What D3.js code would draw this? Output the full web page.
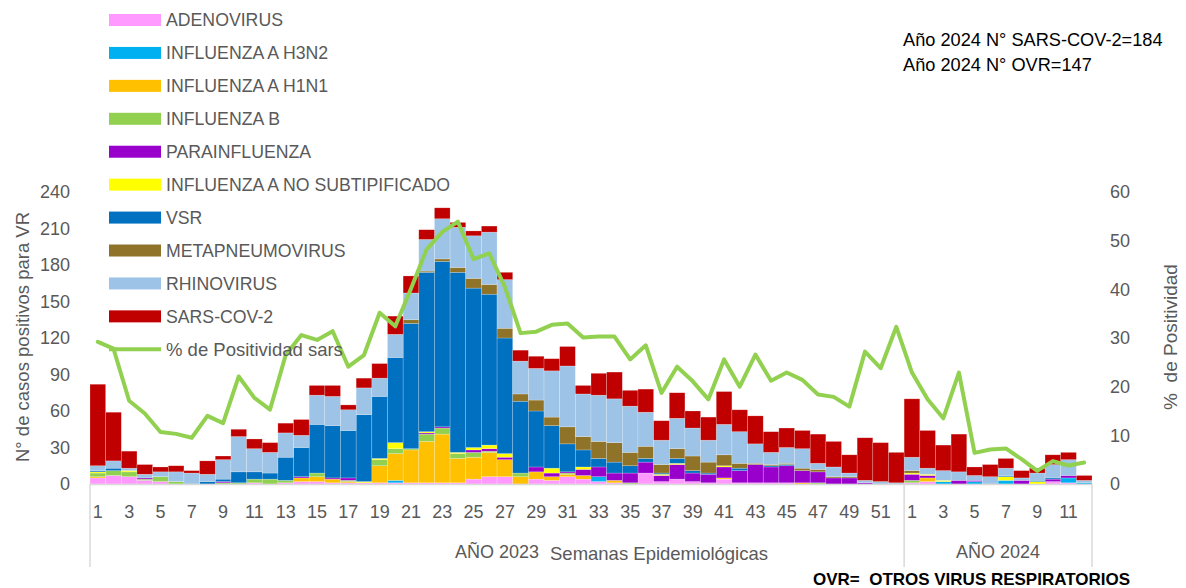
<!DOCTYPE html>
<html><head><meta charset="utf-8">
<script src="https://cdn.jsdelivr.net/npm/d3@7/dist/d3.min.js"></script>
<style>
body{margin:0;background:#fff}
svg{display:block;font-family:"Liberation Sans",Arial,sans-serif}
</style>
</head><body>
<svg id="chart" width="1186" height="588"></svg>
<script>
// ---------- DATA ----------
const weekLabels = ["1","2","3","4","5","6","7","8","9","10","11","12","13","14","15","16","17","18","19","20",
  "21","22","23","24","25","26","27","28","29","30","31","32","33","34","35","36","37","38","39","40",
  "41","42","43","44","45","46","47","48","49","50","51","52",
  "1","2","3","4","5","6","7","8","9","10","11","12"];
const groupLabels = ["AÑO 2023","AÑO 2024"];
const groupSizes = [52,12];

const seriesNames = ["ADENOVIRUS","INFLUENZA A H3N2","INFLUENZA A H1N1","INFLUENZA B","PARAINFLUENZA",
  "INFLUENZA A NO SUBTIPIFICADO","VSR","METAPNEUMOVIRUS","RHINOVIRUS","SARS-COV-2"];
const seriesColors = ["#FF99FF","#00B0F0","#FFC000","#92D050","#9900CC","#FFFF00","#0070C0","#8E7329","#9DC3E6","#C00000"];

const adenovirus = [5,7,6,3,2,0,0,0,0,0, 1,0,1,2,2,1,1,1,1,1, 1,1,1,1,4,6,6,0,4,3, 6,4,2,1,0,9,2,4,2,1, 4,1,1,1,1,0,0,0,0,0, 0,0, 1,2,0,0,0,0,0,0,0,2,1,0];
const h3n2 = [0,0,0,0,0,0,0,0,0,0, 0,0,0,0,0,0,0,0,0,2, 0,0,0,0,0,0,0,0,0,0, 0,0,4,0,0,0,0,0,0,0, 0,0,0,0,0,0,0,0,0,0, 0,0, 0,0,2,0,2,0,3,0,0,0,4,1];
const h1n1 = [1,0,0,0,0,0,0,0,0,0, 0,0,0,3,4,3,1,0,14,22, 27,34,40,20,18,20,14,6,6,3, 2,3,0,2,0,0,0,0,0,0, 1,0,0,0,0,1,0,0,0,0, 0,0, 0,3,0,0,0,0,0,0,0,0,0,0];
const influenzaB = [3,4,4,1,4,2,0,0,1,1, 3,4,2,0,3,0,1,0,5,4, 1,6,5,4,4,1,0,3,0,0, 1,0,0,0,1,0,0,0,0,0, 0,0,0,0,0,0,1,0,0,0, 0,0, 2,0,0,0,0,0,0,0,0,0,0,0];
const parainfluenza = [0,0,0,1,0,0,0,0,1,0, 0,0,0,1,0,1,2,0,0,0, 0,1,1,0,2,2,2,0,4,3, 1,5,8,6,8,9,5,12,7,7, 9,10,15,13,14,10,9,5,5,1, 0,0, 5,2,0,3,1,0,0,3,0,2,2,0];
const influenzaANoSub = [1,0,1,0,0,0,0,0,0,0, 0,0,0,0,0,0,0,1,1,5, 0,1,0,1,2,3,3,0,0,4, 0,2,0,0,0,0,1,1,0,0, 1,0,0,0,0,0,0,0,0,0, 0,0, 1,1,1,0,0,0,3,0,2,0,0,0];
const vsr = [1,2,0,0,0,0,0,2,2,9, 6,5,19,24,40,43,39,55,51,70, 103,131,136,148,131,124,95,59,46,35, 23,14,7,9,6,3,1,4,2,1, 0,2,0,1,1,0,0,0,0,0, 0,0, 0,0,0,0,0,0,1,0,1,1,0,0];
const metapneumovirus = [0,0,0,0,0,0,0,0,0,0, 0,0,0,0,0,0,0,0,0,0, 3,1,2,4,8,8,8,6,9,7, 14,11,14,16,11,10,7,8,12,9, 9,4,1,1,1,2,2,1,1,0, 0,0, 2,0,0,0,0,0,0,0,0,0,0,0];
const rhinovirus = [4,6,2,3,4,8,9,6,16,29, 19,17,20,10,24,24,17,22,15,19, 22,26,33,33,35,43,40,27,26,38, 50,35,38,36,38,28,20,25,23,18, 25,26,16,10,13,16,5,8,3,2, 2,1, 11,5,8,7,4,6,6,2,6,11,13,2];
const sarsCov2 = [67,40,14,8,4,5,2,11,3,6, 8,8,8,13,8,9,4,8,12,15, 14,8,9,4,4,5,6,9,10,10, 16,7,18,22,13,19,16,21,14,19, 27,18,23,17,16,15,24,21,15,35, 32,25, 48,31,21,31,7,10,8,6,4,8,6,4];
const positividadSars = [29.2,27.8,17.1,14.5,10.7,10.3,9.5,14.0,12.5,22.1, 17.7,15.3,26.5,30.6,29.6,31.4,24.1,26.5,35.2,32.4,
  40.1,48.2,51.8,53.9,46.2,47.4,40.5,31.0,31.3,32.7, 33.0,30.1,30.3,30.3,25.6,28.5,18.7,24.1,21.1,17.4,
  25.6,20.0,26.6,21.2,22.9,21.4,18.4,17.9,15.9,27.2, 23.8,32.3,
  22.9,17.4,13.5,22.9,6.4,7.1,7.3,5.1,2.7,4.7,3.8,4.4];
const leftTicks = [0,30,60,90,120,150,180,210,240];
const rightTicks = [0,10,20,30,40,50,60];
const lineName = "% de Positividad sars";
const notes = ["Año 2024 N° SARS-COV-2=184","Año 2024 N° OVR=147"];
const footNote = "OVR=  OTROS VIRUS RESPIRATORIOS";

// ---------- BUILD ----------
const seriesArrays = [adenovirus,h3n2,h1n1,influenzaB,parainfluenza,influenzaANoSub,vsr,metapneumovirus,rhinovirus,sarsCov2];
const table = weekLabels.map((w,i)=>{
  const row = {idx:i, week:w};
  seriesNames.forEach((n,k)=>row[n]=seriesArrays[k][i]);
  return row;
});

const svg = d3.select("#chart");
const gray = "#595959";
const x = d3.scaleBand().domain(d3.range(weekLabels.length)).range([90,1092]).padding(0);
const y = d3.scaleLinear().domain([0,240]).range([484,192]);
const y2 = d3.scaleLinear().domain([0,60]).range([484,192]);

const stacked = d3.stack().keys(seriesNames)(table);
const layers = svg.append("g").selectAll("g").data(stacked).join("g")
  .attr("fill",(d,i)=>seriesColors[i]);
layers.selectAll("rect").data(d=>d.filter(p=>p[1]-p[0]>0)).join("rect")
  .attr("x",d=>x(d.data.idx))
  .attr("width",x.bandwidth())
  .attr("y",d=>y(d[1]))
  .attr("height",d=>y(d[0])-y(d[1]))
  .attr("stroke","rgba(255,255,255,0.35)")
  .attr("stroke-width",0.6);

// axis baseline & group separators
const axisColor = "#D9D9D9";
svg.append("line").attr("x1",x(0)).attr("x2",x(weekLabels.length-1)+x.bandwidth())
  .attr("y1",y(0)+0.5).attr("y2",y(0)+0.5).attr("stroke",axisColor).attr("stroke-width",1.5);
let start = 0;
const sepX = [x(0)];
groupSizes.forEach(s=>{ start += s; sepX.push(start<weekLabels.length ? x(start) : x(weekLabels.length-1)+x.bandwidth()); });
svg.selectAll(".sep").data(sepX).join("line").attr("class","sep")
  .attr("x1",d=>d).attr("x2",d=>d).attr("y1",y(0)).attr("y2",567)
  .attr("stroke",axisColor).attr("stroke-width",1.5);

// group labels
start = 0;
groupLabels.forEach((g,i)=>{
  const a = x(start), b = (start+groupSizes[i]<weekLabels.length) ? x(start+groupSizes[i]) : x(weekLabels.length-1)+x.bandwidth();
  svg.append("text").attr("x",(a+b)/2).attr("y",558).attr("text-anchor","middle")
    .attr("font-size",18).attr("fill",gray).text(g);
  start += groupSizes[i];
});
svg.append("text").attr("x",550).attr("y",560).attr("font-size",18.5).attr("fill",gray)
  .text("Semanas Epidemiológicas");

// bottom axis labels
const xAxis = d3.axisBottom(x).tickSize(0).tickPadding(21)
  .tickFormat(i=> (i%2===0) ? weekLabels[i] : "");
const gx = svg.append("g").attr("transform",`translate(0,${y(0)})`).call(xAxis);
gx.select(".domain").remove();
gx.selectAll("text").attr("font-size",18).attr("fill",gray).attr("font-family","Liberation Sans, Arial, sans-serif");

// left axis
const gy = svg.append("g").attr("transform","translate(70,0)")
  .call(d3.axisLeft(y).tickValues(leftTicks).tickSize(0).tickPadding(0));
gy.select(".domain").remove();
gy.selectAll("text").attr("font-size",18).attr("fill",gray).attr("font-family","Liberation Sans, Arial, sans-serif");

// right axis
const gy2 = svg.append("g").attr("transform","translate(1110,0)")
  .call(d3.axisRight(y2).tickValues(rightTicks).tickSize(0).tickPadding(0));
gy2.select(".domain").remove();
gy2.selectAll("text").attr("font-size",18).attr("fill",gray).attr("font-family","Liberation Sans, Arial, sans-serif");

// axis titles
svg.append("text").attr("transform","translate(23,337) rotate(-90)")
  .attr("text-anchor","middle").attr("dy","0.35em").attr("font-size",18.5).attr("fill",gray)
  .text("N° de casos positivos para VR");
svg.append("text").attr("transform","translate(1170,337) rotate(-90)")
  .attr("text-anchor","middle").attr("dy","0.35em").attr("font-size",19).attr("fill",gray)
  .attr("xml:space","preserve").style("white-space","pre")
  .text("%  de Positividad");

// line
const line = d3.line().x((d,i)=>x(i)+x.bandwidth()/2).y(d=>y2(d));
svg.append("path").datum(positividadSars).attr("d",line)
  .attr("fill","none").attr("stroke","#92D050").attr("stroke-width",4)
  .attr("stroke-linejoin","round").attr("stroke-linecap","round");

// legend
const lg = svg.append("g");
const legY = i => 20 + i*32.93;
seriesNames.forEach((n,i)=>{
  lg.append("rect").attr("x",109).attr("y",legY(i)-6).attr("width",52).attr("height",12).attr("fill",seriesColors[i]);
  lg.append("text").attr("x",166).attr("y",legY(i)).attr("dy","0.36em").attr("font-size",17.7).attr("fill",gray).text(n);
});
lg.append("line").attr("x1",109).attr("x2",161).attr("y1",legY(10)).attr("y2",legY(10))
  .attr("stroke","#92D050").attr("stroke-width",4);
lg.append("text").attr("x",166).attr("y",legY(10)).attr("dy","0.36em").attr("font-size",18.5).attr("fill",gray).text(lineName);

// notes
notes.forEach((t,i)=>{
  svg.append("text").attr("x",903).attr("y",46+i*25).attr("font-size",18.2).attr("fill","#000").text(t);
});
svg.append("text").attr("x",813).attr("y",585).attr("font-size",17).attr("font-weight","bold")
  .attr("fill","#000").attr("xml:space","preserve").style("white-space","pre")
  .attr("textLength",317).attr("lengthAdjust","spacingAndGlyphs").text(footNote);
</script>
</body></html>
